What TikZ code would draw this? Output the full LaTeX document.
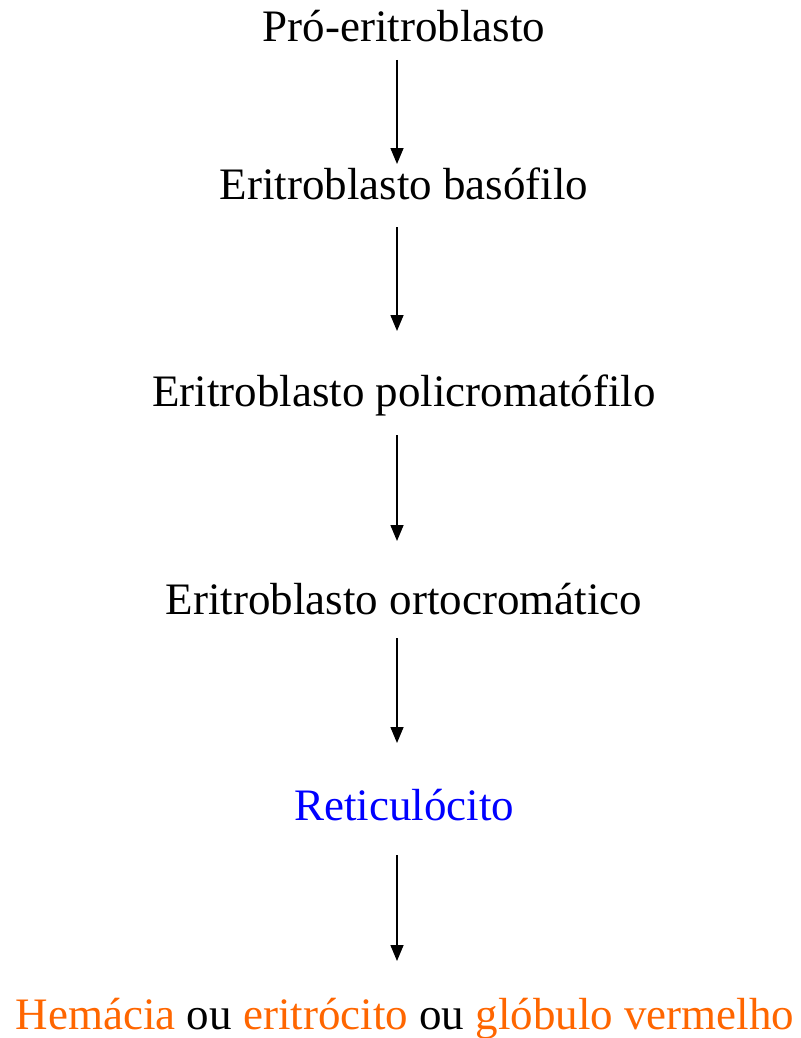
\documentclass[tikz,border=0pt]{standalone}
\usepackage{fontspec}
\setmainfont{Liberation Serif}
\usetikzlibrary{arrows.meta}
\definecolor{orng}{HTML}{FF6600}
\definecolor{blu}{HTML}{0000FF}
\begin{document}
\begin{tikzpicture}[x=1pt,y=1pt,
  lbl/.style={anchor=base,inner sep=0pt,font=\fontsize{45}{54}\selectfont},
  arr/.style={line width=1.5pt,-{Triangle[width=13pt,length=16pt]}}]
\useasboundingbox (0,0) rectangle (800,-1038);
\node[lbl] (n1) at (404,-42) {Pró-eritroblasto};
\node[lbl] (n2) at (404,-199) {Eritroblasto basófilo};
\node[lbl] (n3) at (404,-406) {Eritroblasto policromatófilo};
\node[lbl] (n4) at (404,-614) {Eritroblasto ortocromático};
\node[lbl,text=blu] (n5) at (404,-820) {Reticulócito};
\node[lbl] (n6) at (405,-1029) {\textcolor{orng}{Hemácia} ou \textcolor{orng}{eritrócito} ou \textcolor{orng}{glóbulo vermelho}};
\coordinate (t1) at (397,-60);  \coordinate (h1) at (397,-164);
\coordinate (t2) at (397,-227); \coordinate (h2) at (397,-331);
\coordinate (t3) at (397,-435); \coordinate (h3) at (397,-541);
\coordinate (t4) at (397,-638); \coordinate (h4) at (397,-743);
\coordinate (t5) at (397,-855); \coordinate (h5) at (397,-961);
\draw[arr] (t1) -- (h1);
\draw[arr] (t2) -- (h2);
\draw[arr] (t3) -- (h3);
\draw[arr] (t4) -- (h4);
\draw[arr] (t5) -- (h5);
\end{tikzpicture}
\end{document}
